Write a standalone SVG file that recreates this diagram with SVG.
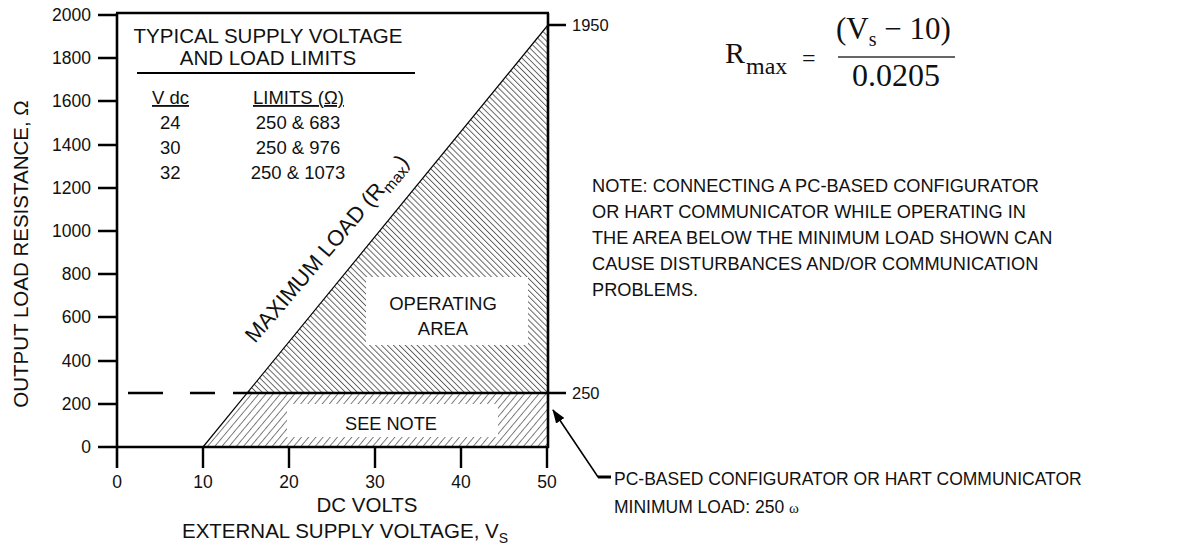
<svg xmlns="http://www.w3.org/2000/svg" width="1197" height="546" viewBox="0 0 1197 546">
<style>
.t{font-family:"Liberation Sans",Arial,sans-serif;fill:#111}
.s{font-family:"Liberation Serif","Times New Roman",serif;fill:#111}
.ax{stroke:#000;stroke-width:2.6;fill:none}
.tk{stroke:#000;stroke-width:2.4;fill:none}
</style>
<defs>
<pattern id="hu" patternUnits="userSpaceOnUse" width="4.2" height="10" patternTransform="rotate(-45)">
<line x1="0.5" y1="0" x2="0.5" y2="10" stroke="#222" stroke-width="0.75"/>
</pattern>
<pattern id="hl" patternUnits="userSpaceOnUse" width="5.5" height="10" patternTransform="rotate(40)">
<line x1="0.5" y1="0" x2="0.5" y2="10" stroke="#555" stroke-width="0.8"/>
</pattern>
<marker id="ah" markerWidth="14" markerHeight="10" refX="13" refY="5" orient="auto" markerUnits="userSpaceOnUse">
<path d="M0,0 L14,5 L0,10 Z" fill="#000"/>
</marker>
</defs>

<g id="hatching">
<polygon points="247,393 548,26 548,393" fill="url(#hu)"/>
<polygon points="203,447 247,393 548,393 548,447" fill="url(#hl)"/>
<rect x="366" y="277" width="162" height="68" fill="#fff"/>
<rect x="287" y="404" width="211" height="33" fill="#fff"/>
</g>

<g id="axes">
<path class="ax" d="M117,13 V468"/>
<path class="ax" d="M116,13 H549"/>
<path class="ax" d="M548,13 V448"/>
<path class="ax" d="M98,447 H549"/>
<path class="tk" d="M98,15 H117 M98,58 H117 M98,101 H117 M98,145 H117 M98,188 H117 M98,231 H117 M98,274 H117 M98,317 H117 M98,361 H117 M98,404 H117"/>
<path class="tk" d="M203,447 V468 M289,447 V468 M375,447 V468 M461,447 V468 M547,447 V468"/>
<path class="tk" d="M548,25 H566 M548,393 H566"/>
<path d="M203,447 L548,25" stroke="#000" stroke-width="1.2" fill="none"/>
<path d="M128,393 H163 M190,393 H215" stroke="#000" stroke-width="2.4" fill="none"/>
<path d="M233,393 H548" stroke="#000" stroke-width="2.6" fill="none"/>
</g>

<g id="y-labels" class="t" font-size="17.5" text-anchor="end">
<text x="91" y="21">2000</text>
<text x="91" y="64">1800</text>
<text x="91" y="107">1600</text>
<text x="91" y="151">1400</text>
<text x="91" y="194">1200</text>
<text x="91" y="237">1000</text>
<text x="91" y="280">800</text>
<text x="91" y="323">600</text>
<text x="91" y="367">400</text>
<text x="91" y="410">200</text>
<text x="91" y="453">0</text>
</g>
<g id="x-labels" class="t" font-size="17.5" text-anchor="middle">
<text x="117" y="488">0</text>
<text x="203" y="488">10</text>
<text x="289" y="488">20</text>
<text x="375" y="488">30</text>
<text x="461" y="488">40</text>
<text x="547" y="488">50</text>
</g>
<g id="right-labels" class="t" font-size="16.5">
<text x="572" y="31">1950</text>
<text x="572" y="399">250</text>
</g>

<g id="axis-titles" class="t" font-size="20.5">
<text x="367" y="512" text-anchor="middle">DC VOLTS</text>
<text x="182" y="538">EXTERNAL SUPPLY VOLTAGE, V<tspan font-size="14" dy="5">S</tspan></text>
<text transform="translate(28,254) rotate(-90)" text-anchor="middle" font-size="20.5">OUTPUT LOAD RESISTANCE, Ω</text>
</g>

<g id="table" class="t">
<text x="268" y="43" font-size="20.5" text-anchor="middle">TYPICAL SUPPLY VOLTAGE</text>
<text x="268" y="65" font-size="20.5" text-anchor="middle">AND LOAD LIMITS</text>
<path d="M137,73 H415" stroke="#000" stroke-width="2.2"/>
<g font-size="18.5">
<text x="152" y="104" text-decoration="underline">V dc</text>
<text x="253" y="104" text-decoration="underline">LIMITS (Ω)</text>
<text x="160" y="129">24</text>
<text x="160" y="154">30</text>
<text x="160" y="179">32</text>
<text x="298" y="129" text-anchor="middle">250 &amp; 683</text>
<text x="298" y="154" text-anchor="middle">250 &amp; 976</text>
<text x="298" y="179" text-anchor="middle">250 &amp; 1073</text>
</g>
</g>

<g id="rmax-label" class="t" font-size="22">
<text transform="translate(255,344) rotate(-49.5)">MAXIMUM LOAD (R<tspan font-size="15.5" dy="5">max</tspan><tspan dy="-5">)</tspan></text>
</g>

<g id="operating-area" class="t" font-size="18.5" text-anchor="middle">
<text x="443" y="310">OPERATING</text>
<text x="443" y="335">AREA</text>
</g>
<g id="see-note" class="t" font-size="18.2" text-anchor="middle">
<text x="391" y="430">SEE NOTE</text>
</g>

<g id="formula" class="s">
<text x="725" y="63" font-size="30">R</text>
<text x="746" y="74" font-size="24">max</text>
<text x="802" y="66" font-size="24">=</text>
<text x="836" y="39" font-size="31">(V<tspan font-size="20" dy="7">s</tspan><tspan dy="-7"> − 10)</tspan></text>
<path d="M838,57 H955" stroke="#333" stroke-width="1.3"/>
<text x="852" y="86" font-size="32">0.0205</text>
</g>

<g id="note" class="t" font-size="18.2">
<text x="592" y="192">NOTE: CONNECTING A PC-BASED CONFIGURATOR</text>
<text x="592" y="218">OR HART COMMUNICATOR WHILE OPERATING IN</text>
<text x="592" y="244">THE AREA BELOW THE MINIMUM LOAD SHOWN CAN</text>
<text x="592" y="270">CAUSE DISTURBANCES AND/OR COMMUNICATION</text>
<text x="592" y="296">PROBLEMS.</text>
</g>

<g id="connectors">
<path d="M610,477 H598 L553,410" stroke="#000" stroke-width="1.6" fill="none" marker-end="url(#ah)"/>
<path d="M598,477 H611" stroke="#000" stroke-width="3"/>
</g>

<g id="callout" class="t" font-size="17.5">
<text x="614" y="485">PC-BASED CONFIGURATOR OR HART COMMUNICATOR</text>
<text x="614" y="513">MINIMUM LOAD: 250 <tspan class="s" font-size="15">ω</tspan></text>
</g>
</svg>
